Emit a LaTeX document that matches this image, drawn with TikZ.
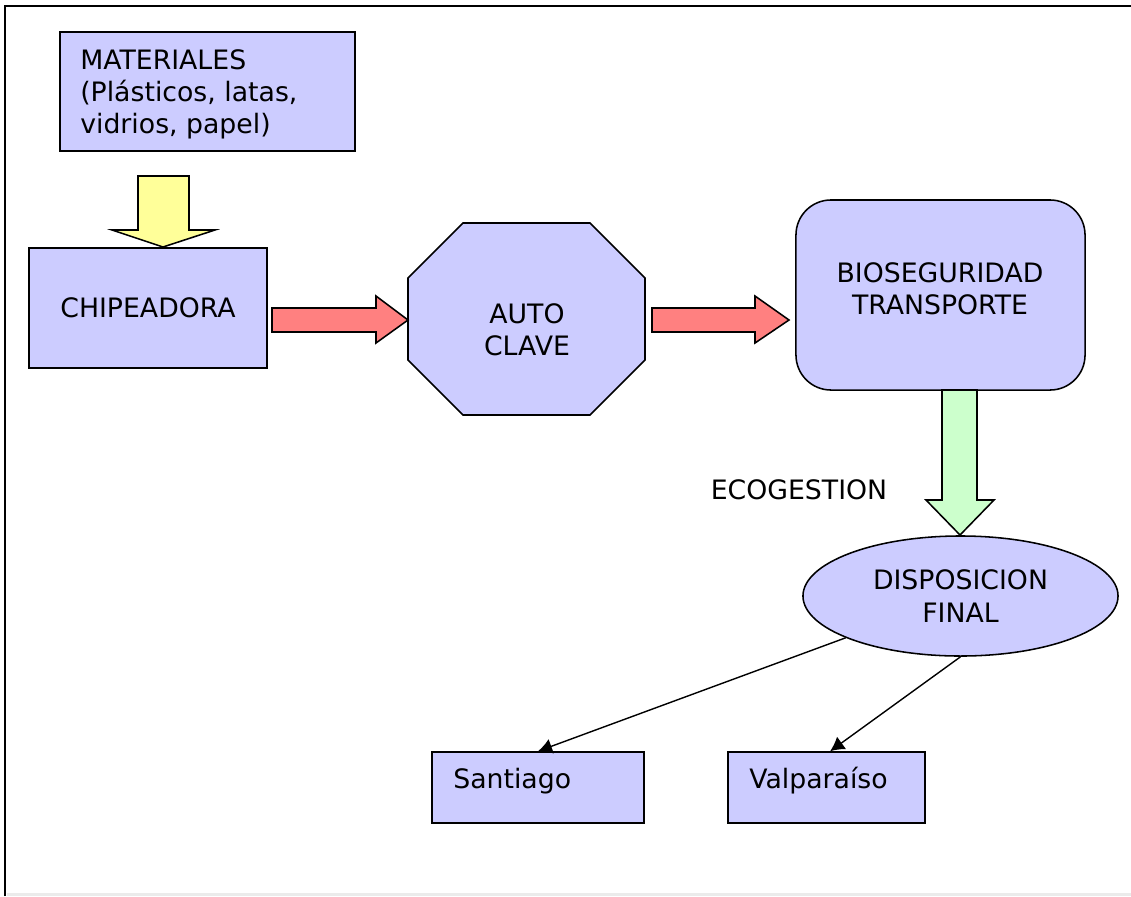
\documentclass[tikz,border=0pt]{standalone}
\usepackage{fontspec}
\setmainfont{DejaVu Sans}
\usetikzlibrary{arrows.meta}
\usetikzlibrary{shapes.geometric}

\definecolor{lila}{HTML}{CCCCFF}
\definecolor{rojo}{HTML}{FF8080}
\definecolor{amarillo}{HTML}{FFFF99}
\definecolor{verde}{HTML}{CCFFCC}

\tikzset{
	caja/.style={draw, fill=lila, line width=1.1pt, inner sep=0pt},
	flecha/.style={draw, line width=1.1pt, line join=miter},
	texto/.style={font=\fontsize{19}{23}\selectfont, align=center, inner sep=0pt},
	conector/.style={line width=1pt, -{Latex[length=10pt,width=11pt]}}
}

\begin{document}
\begin{tikzpicture}[x=0.025cm,y=-0.025cm]
	\useasboundingbox (0,0) rectangle (1131,896);
	% marco
	\fill[black!8] (7,893) rectangle (1131,896);
	\draw[line width=1.5pt] (5,896) -- (5,6) -- (1131,6);
	% cajas
	\node[caja, minimum width=7.375cm, minimum height=2.975cm] (mat) at (207.5,91.5) {};
	\node[texto, anchor=west, align=left] at (80,94.5) {MATERIALES\\(Plásticos, latas,\\vidrios, papel)};
	\node[caja, texto, minimum width=5.95cm, minimum height=3cm] (chip) at (148,308) {CHIPEADORA};
	\draw[caja] (463,223) -- (590,223) -- (645,278) -- (645,360) -- (590,415) -- (463,415) -- (408,360) -- (408,278) -- cycle;
	\node[texto] (auto) at (527,330) {AUTO\\CLAVE};
	\node[caja, rounded corners=0.875cm, minimum width=7.225cm, minimum height=4.75cm] (bio) at (940.5,295) {};
	\node[texto] at (940,289) {BIOSEGURIDAD\\TRANSPORTE};
	\node[caja, texto, ellipse, minimum width=7.875cm, minimum height=3cm] (disp) at (960.5,596) {DISPOSICION\\FINAL};
	\node[caja, minimum width=5.3cm, minimum height=1.775cm] (stgo) at (538,787.5) {};
	\node[caja, minimum width=4.925cm, minimum height=1.775cm] (valpo) at (826.5,787.5) {};
	\node[texto, anchor=west] at (453,781) {Santiago};
	\node[texto, anchor=west] at (749,781) {Valparaíso};
	\node[texto] (eco) at (799,490) {ECOGESTION};
	% flechas de bloque
	\draw[flecha, fill=amarillo] (138,176) -- ++(51,0) -- ++(0,54) -- ++(26,0) -- (163,247) -- (112,230) -- ++(26,0) -- cycle;
	\draw[flecha, fill=rojo] (272,308) -- ++(104,0) -- ++(0,-12) -- (408,320) -- (376,343) -- ++(0,-11) -- ++(-104,0) -- cycle;
	\draw[flecha, fill=rojo] (652,308) -- ++(103,0) -- ++(0,-12) -- (789,320) -- (755,343) -- ++(0,-11) -- ++(-103,0) -- cycle;
	\draw[flecha, fill=verde] (942,390) -- ++(35,0) -- ++(0,110) -- ++(17,0) -- (960,535) -- (926,500) -- ++(16,0) -- cycle;
	% conectores
	\draw[conector] (disp.200) -- (stgo.north);
	\draw[conector] (disp.south) -- ([xshift=0.09cm]valpo.north);
\end{tikzpicture}
\end{document}
